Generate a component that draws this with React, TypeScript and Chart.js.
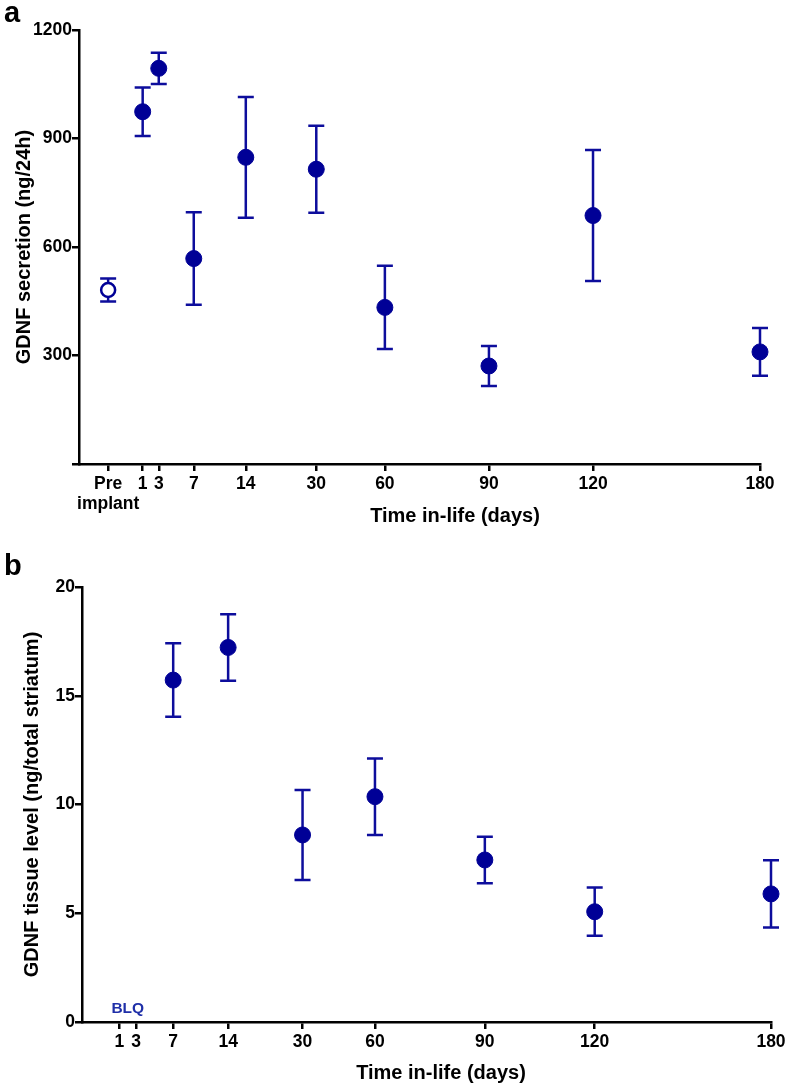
import React, { useEffect, useRef } from 'react';
import { Chart, registerables } from 'chart.js';

Chart.register(...registerables);

// ---------- shared x-axis layout (Prism-style uneven spacing) ----------
const dayLabels = ['1', '3', '7', '14', '30', '60', '90', '120', '180'];
const daySlots = [0, 1.7, 5.4, 10.9, 18.35, 25.6, 36.6, 47.6, 65.25];
const preImplantLabel = ['Pre', 'implant'];
const preImplantSlot = -3.65;

// ---------- panel a: GDNF secretion (ng/24h) ----------
const preImplantMean = 481;
const preImplantErr = 32;
const secretionMeans = [974, 1094, 568, 848, 815, 433, 271, 687, 310];
const secretionErrs = [67, 43, 128, 167, 120, 115, 55, 181, 66];
const secretionYTicks = [0, 300, 600, 900, 1200];

// ---------- panel b: GDNF tissue level (ng/total striatum) ----------
const tissueMeans: (number | null)[] = [null, null, 15.72, 17.22, 8.6, 10.36, 7.45, 5.07, 5.89];
const tissueErrs: (number | null)[] = [null, null, 1.69, 1.53, 2.07, 1.76, 1.07, 1.11, 1.55];
const tissueBLQDays = ['1', '3'];
const tissueBLQLevel = 0.4;
const tissueYTicks = [0, 5, 10, 15, 20];

const FONT = '"Liberation Sans", Arial, Helvetica, sans-serif';
const MARK = '#000096';
const BAR = '#0d0d9c';
const BLQ_COLOR = '#1f2fa8';

const errorBarPlugin = {
  id: 'errorBars',
  beforeDatasetsDraw(chart: any) {
    const { ctx } = chart;
    const xs = chart.scales.x;
    const ys = chart.scales.y;
    ctx.save();
    ctx.strokeStyle = BAR;
    ctx.lineWidth = 2.5;
    chart.data.datasets.forEach((ds: any) => {
      (ds.data as any[]).forEach((p: any, i: number) => {
        const e = ds.errors[i];
        if (e == null) return;
        const x = xs.getPixelForValue(p.x);
        const yt = ys.getPixelForValue(p.y + e);
        const yb = ys.getPixelForValue(p.y - e);
        const hw = 8;
        ctx.beginPath();
        ctx.moveTo(x, yt);
        ctx.lineTo(x, yb);
        ctx.moveTo(x - hw, yt);
        ctx.lineTo(x + hw, yt);
        ctx.moveTo(x - hw, yb);
        ctx.lineTo(x + hw, yb);
        ctx.stroke();
      });
    });
    ctx.restore();
  },
};

const textPlugin = {
  id: 'panelText',
  afterDraw(chart: any, _args: any, opts: any) {
    const { ctx } = chart;
    ctx.save();
    ctx.fillStyle = '#000';
    ctx.textBaseline = 'alphabetic';
    ctx.font = `bold 29px ${FONT}`;
    ctx.textAlign = 'left';
    ctx.fillText(opts.letter, opts.letterX, opts.letterY);
    ctx.font = `bold 20px ${FONT}`;
    ctx.textAlign = 'center';
    ctx.fillText(opts.xTitle, opts.xTitleX, opts.xTitleY);
    if (opts.blq) {
      const xs = chart.scales.x;
      const ys = chart.scales.y;
      const slots = opts.blq.days.map((d: string) => daySlots[dayLabels.indexOf(d)]);
      const cx = (xs.getPixelForValue(slots[0]) + xs.getPixelForValue(slots[slots.length - 1])) / 2;
      ctx.fillStyle = BLQ_COLOR;
      ctx.font = `bold 15.5px ${FONT}`;
      ctx.fillText('BLQ', cx, ys.getPixelForValue(opts.blq.level));
    }
    ctx.restore();
  },
};

function makeOptions(p: any) {
  return {
    responsive: false,
    animation: false,
    events: [],
    layout: { padding: { top: p.padTop, right: p.padRight, bottom: 0, left: 0 } },
    plugins: {
      legend: { display: false },
      tooltip: { enabled: false },
      panelText: p.text,
    },
    scales: {
      x: {
        type: 'linear',
        min: p.xMin,
        max: daySlots[daySlots.length - 1],
        afterBuildTicks: (scale: any) => {
          scale.ticks = p.xSlots.map((v: number) => ({ value: v }));
        },
        afterFit: (scale: any) => {
          scale.height = p.xHeight;
        },
        ticks: {
          autoSkip: false,
          maxRotation: 0,
          minRotation: 0,
          padding: 3,
          color: '#000',
          font: { family: FONT, size: 17.5, weight: 'bold', lineHeight: 1.15 },
          callback: (_v: any, i: number) => p.xLabels[i],
        },
        grid: {
          drawOnChartArea: false,
          drawTicks: true,
          tickLength: 7,
          tickWidth: 2.5,
          tickColor: '#000',
          color: '#000',
          lineWidth: 2.5,
        },
        border: { display: true, color: '#000', width: 2.5 },
      },
      y: {
        type: 'linear',
        min: p.yTicks[0],
        max: p.yTicks[p.yTicks.length - 1],
        afterBuildTicks: (scale: any) => {
          scale.ticks = p.yTicks.map((v: number) => ({ value: v }));
        },
        afterFit: (scale: any) => {
          scale.width = p.yWidth;
        },
        ticks: {
          padding: 0,
          color: '#000',
          font: { family: FONT, size: 17.5, weight: 'bold' },
          callback: (v: any) => (p.hideZero && v === 0 ? '' : String(v)),
        },
        grid: {
          drawOnChartArea: false,
          drawTicks: true,
          tickLength: 7,
          tickWidth: 2.5,
          tickColor: '#000',
          color: '#000',
          lineWidth: 2.5,
        },
        border: { display: true, color: '#000', width: 2.5 },
        title: {
          display: true,
          text: p.yTitle,
          color: '#000',
          padding: { top: p.yTitlePad, bottom: 0 },
          font: { family: FONT, size: 20, weight: 'bold', lineHeight: 1.2 },
        },
      },
    },
  };
}

function PanelA() {
  const ref = useRef<HTMLCanvasElement>(null);
  useEffect(() => {
    const chart = new Chart(ref.current as HTMLCanvasElement, {
      type: 'scatter',
      data: {
        datasets: [
          {
            data: [{ x: preImplantSlot, y: preImplantMean }],
            errors: [preImplantErr],
            clip: false,
            pointRadius: 7,
            pointBorderWidth: 2.5,
            pointBackgroundColor: '#fff',
            pointBorderColor: MARK,
          } as any,
          {
            data: secretionMeans.map((m, i) => ({ x: daySlots[i], y: m })),
            errors: secretionErrs,
            clip: false,
            pointRadius: 8,
            pointBorderWidth: 1,
            pointBackgroundColor: MARK,
            pointBorderColor: MARK,
          } as any,
        ],
      },
      options: makeOptions({
        padTop: 30,
        padRight: 31,
        xMin: -6.73,
        xHeight: 81,
        yWidth: 79,
        xSlots: [preImplantSlot, ...daySlots],
        xLabels: [preImplantLabel, ...dayLabels],
        yTicks: secretionYTicks,
        hideZero: true,
        yTitle: 'GDNF secretion (ng/24h)',
        yTitlePad: 12.3,
        text: { letter: 'a', letterX: 4, letterY: 22, xTitle: 'Time in-life (days)', xTitleX: 455, xTitleY: 522 },
      }) as any,
      plugins: [errorBarPlugin, textPlugin],
    });
    return () => chart.destroy();
  }, []);
  return <canvas ref={ref} width={791} height={545} style={{ display: 'block' }} />;
}

function PanelB() {
  const ref = useRef<HTMLCanvasElement>(null);
  useEffect(() => {
    const pts: any[] = [];
    const errs: number[] = [];
    tissueMeans.forEach((m, i) => {
      if (m == null) return;
      pts.push({ x: daySlots[i], y: m });
      errs.push(tissueErrs[i] as number);
    });
    const chart = new Chart(ref.current as HTMLCanvasElement, {
      type: 'scatter',
      data: {
        datasets: [
          {
            data: pts,
            errors: errs,
            clip: false,
            pointRadius: 8,
            pointBorderWidth: 1,
            pointBackgroundColor: MARK,
            pointBorderColor: MARK,
          } as any,
        ],
      },
      options: makeOptions({
        padTop: 42,
        padRight: 20,
        xMin: -3.73,
        xHeight: 68,
        yWidth: 82,
        xSlots: daySlots,
        xLabels: dayLabels,
        yTicks: tissueYTicks,
        hideZero: false,
        yTitle: 'GDNF tissue level (ng/total striatum)',
        yTitlePad: 20.5,
        text: {
          letter: 'b',
          letterX: 4,
          letterY: 30,
          xTitle: 'Time in-life (days)',
          xTitleX: 441,
          xTitleY: 534,
          blq: { days: tissueBLQDays, level: tissueBLQLevel },
        },
      }) as any,
      plugins: [errorBarPlugin, textPlugin],
    });
    return () => chart.destroy();
  }, []);
  return <canvas ref={ref} width={791} height={545} style={{ display: 'block' }} />;
}

export default function App() {
  return (
    <div style={{ position: 'absolute', left: 0, top: 0, width: 791, height: 1090, background: '#fff' }}>
      <PanelA />
      <PanelB />
    </div>
  );
}
